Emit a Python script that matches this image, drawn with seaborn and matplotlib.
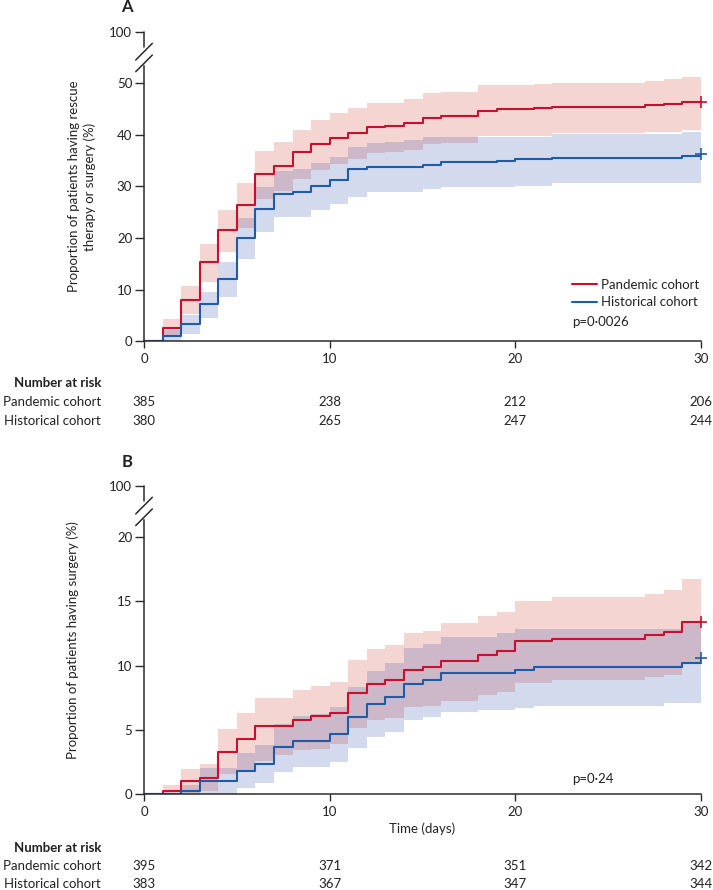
import numpy as np
import pandas as pd
import matplotlib
matplotlib.use("Agg")
import matplotlib.pyplot as plt
import matplotlib.transforms as mtransforms
import seaborn as sns

# ======== DATA ========
days = list(range(31))

# panel A: rescue therapy or surgery (%)
a_pand = [0, 2.6, 8.0, 15.3, 21.5, 26.4, 32.4, 34.0, 36.6, 38.2, 39.3, 40.4, 41.4, 41.7, 42.2,
          43.2, 43.6, 43.6, 44.6, 44.9, 44.9, 45.1, 45.4, 45.4, 45.4, 45.4, 45.4, 45.7, 46.0, 46.4, 46.4]
a_pand_hi = [0, 4.3, 10.7, 18.8, 25.5, 30.7, 36.8, 38.5, 41.0, 42.8, 44.2, 45.2, 46.2, 46.2, 47.0,
             48.0, 48.3, 48.3, 49.6, 49.6, 49.6, 49.8, 50.1, 50.1, 50.1, 50.1, 50.1, 50.4, 50.7, 51.2, 51.2]
a_pand_lo = [0, 1.2, 5.2, 11.5, 17.3, 22.0, 27.5, 29.1, 31.5, 33.1, 34.3, 35.3, 36.4, 36.7, 37.0,
             38.2, 38.4, 38.4, 39.8, 39.8, 39.8, 39.8, 40.3, 40.3, 40.3, 40.3, 40.3, 40.6, 40.6, 41.0, 41.0]
a_hist = [0, 1.0, 3.3, 7.2, 12.1, 20.0, 25.7, 28.6, 29.0, 30.1, 31.2, 33.3, 33.8, 33.8, 33.8,
          34.1, 34.8, 34.8, 34.8, 35.0, 35.2, 35.2, 35.5, 35.5, 35.5, 35.5, 35.5, 35.5, 35.5, 35.9, 36.3]
a_hist_hi = [0, 2.2, 5.0, 9.6, 15.3, 23.8, 29.9, 33.0, 33.4, 34.6, 35.6, 37.7, 38.4, 38.6, 39.0,
             39.5, 39.5, 39.5, 39.6, 39.6, 39.6, 39.6, 40.1, 40.1, 40.1, 40.1, 40.1, 40.1, 40.1, 40.6, 40.6]
a_hist_lo = [0, 0.1, 1.35, 4.45, 8.6, 15.9, 21.2, 24.0, 24.1, 25.5, 26.6, 28.0, 29.0, 29.0, 29.0,
             29.4, 29.8, 29.8, 29.8, 29.8, 30.1, 30.1, 30.6, 30.6, 30.6, 30.6, 30.6, 30.6, 30.6, 30.6, 30.6]

# panel B: surgery (%)
b_pand = [0, 0.26, 1.0, 1.3, 3.3, 4.3, 5.3, 5.3, 5.8, 6.05, 6.35, 7.85, 8.56, 8.85, 9.65,
          9.86, 10.37, 10.37, 10.85, 11.15, 11.9, 11.9, 12.1, 12.1, 12.1, 12.1, 12.1, 12.37, 12.6, 13.4, 13.4]
b_pand_hi = [0, 0.75, 2.0, 2.35, 5.05, 6.3, 7.5, 7.5, 8.1, 8.4, 8.7, 10.43, 11.28, 11.6, 12.5,
             12.7, 13.3, 13.3, 13.87, 14.18, 15.0, 15.0, 15.34, 15.34, 15.34, 15.34, 15.34, 15.55, 15.86, 16.7, 16.7]
b_pand_lo = [0, 0, 0.05, 0.25, 1.55, 1.9, 2.6, 3.05, 3.45, 3.55, 3.9, 5.12, 5.77, 5.9, 6.8,
             6.85, 7.27, 7.27, 7.71, 7.97, 8.62, 8.62, 8.87, 8.87, 8.87, 8.87, 8.87, 9.08, 9.26, 10.17, 10.17]
b_hist = [0, 0, 0.26, 1.03, 1.03, 1.81, 2.35, 3.68, 4.16, 4.16, 4.68, 5.98, 7.0, 7.53, 8.56,
          8.87, 9.39, 9.39, 9.39, 9.39, 9.65, 9.9, 9.9, 9.9, 9.9, 9.9, 9.9, 9.9, 9.9, 10.2, 10.6]
b_hist_hi = [0, 0, 0.75, 2.07, 2.07, 3.18, 3.83, 5.46, 6.1, 6.25, 6.8, 8.35, 9.6, 10.17, 11.4,
             11.7, 12.24, 12.24, 12.24, 12.5, 12.83, 12.83, 12.83, 12.83, 12.83, 12.83, 12.83, 12.83, 12.83, 13.3, 13.3]
b_hist_lo = [0, 0, 0, 0, 0, 0.46, 0.85, 1.75, 2.14, 2.14, 2.53, 3.57, 4.47, 4.86, 5.77,
             6.03, 6.41, 6.41, 6.55, 6.55, 6.68, 6.86, 6.86, 6.86, 6.86, 6.86, 6.86, 6.86, 7.07, 7.07, 7.07]

risk_days = [0, 10, 20, 30]
a_risk_pand = [385, 238, 212, 206]
a_risk_hist = [380, 265, 247, 244]
b_risk_pand = [395, 371, 351, 342]
b_risk_hist = [383, 367, 347, 344]

cohorts = ["Pandemic cohort", "Historical cohort"]

# ======== STYLE ========
sns.set_style("ticks")
plt.rcParams["font.family"] = ["Lato", "DejaVu Sans"]
plt.rcParams["font.size"] = 9

RED = "#c8102e"
BLUE = "#1f5ca8"
PINK = "#f4d5d2"
LIGHTBLUE = "#d3daee"
PURPLE = "#cdb8c9"
AXC = "#2b2b2b"
TXT = "#222222"
FS = 9.5

fig = plt.figure(figsize=(7.13, 8.90), dpi=100)
axA = fig.add_axes([0.2020, 0.6165, 0.7812, 0.3475])
axB = fig.add_axes([0.2020, 0.1075, 0.7812, 0.3464])


def draw_panel(ax, pand, pand_lo, pand_hi, hist, hist_lo, hist_hi, yticks, top, brk, legend):
    x = np.array(days)
    ax.fill_between(x, hist_lo, hist_hi, step="post", color=LIGHTBLUE, lw=0)
    ax.fill_between(x, pand_lo, pand_hi, step="post", color=PINK, lw=0)
    # overlap of the two confidence bands
    ov_lo = np.maximum(pand_lo, hist_lo)
    ov_hi = np.maximum(np.minimum(pand_hi, hist_hi), ov_lo)
    ax.fill_between(x, ov_lo, ov_hi, step="post", color=PURPLE, lw=0)

    df = pd.DataFrame({
        "day": days * 2,
        "pct": list(pand) + list(hist),
        "cohort": [cohorts[0]] * len(days) + [cohorts[1]] * len(days),
    })
    sns.lineplot(data=df, x="day", y="pct", hue="cohort", palette=[RED, BLUE],
                 drawstyle="steps-post", lw=1.5, ax=ax, legend=legend)
    ax.plot([days[-1]], [pand[-1]], marker="+", ms=8, mew=1.2, color=RED, clip_on=False)
    ax.plot([days[-1]], [hist[-1]], marker="+", ms=8, mew=1.2, color=BLUE, clip_on=False)

    ax.set_xlim(0, 30)
    ax.set_ylim(0, top)
    ax.set_xticks([0, 10, 20, 30])
    ax.set_yticks(list(yticks) + [top])
    ax.set_yticklabels([str(t) for t in yticks] + ["100"])
    ax.set_xlabel("")
    ax.set_ylabel("")
    ax.tick_params(axis="y", length=6.5, width=1, color=AXC, labelcolor=TXT, pad=2, labelsize=FS)
    ax.tick_params(axis="x", length=5, width=1, color=AXC, labelcolor=TXT, pad=3.5, labelsize=FS)
    for s in ["top", "right"]:
        ax.spines[s].set_visible(False)
    for s in ["bottom", "left"]:
        ax.spines[s].set_color(AXC)
        ax.spines[s].set_linewidth(1.1)
    ax.spines["left"].set_bounds(0, brk)

    # broken axis decoration
    tr = ax.transAxes
    ax.plot([0, 0], [0.9525, 1.0], color=AXC, lw=1.1, transform=tr, clip_on=False)
    ax.plot([-0.0149, 0.0149], [0.9095, 0.9635], color=AXC, lw=1.1, transform=tr, clip_on=False)
    ax.plot([-0.0149, 0.0149], [0.8717, 0.9256], color=AXC, lw=1.1, transform=tr, clip_on=False)


draw_panel(axA, a_pand, a_pand_lo, a_pand_hi, a_hist, a_hist_lo, a_hist_hi,
           [0, 10, 20, 30, 40, 50], 59.87, 53.2, True)
draw_panel(axB, b_pand, b_pand_lo, b_pand_hi, b_hist, b_hist_lo, b_hist_hi,
           [0, 5, 10, 15, 20], 23.94, 21.3, False)

# legend and p values
handles, labels = axA.get_legend_handles_labels()
axA.legend(handles, labels, loc="upper left", bbox_to_anchor=(0.768, 0.203),
           frameon=False, borderpad=0, borderaxespad=0, handlelength=1.9,
           handletextpad=0.35, labelspacing=0.45, fontsize=FS, labelcolor=TXT)
axA.text(23.07, 3.7, "p=0·0026", ha="left", va="center", fontsize=FS, color=TXT)
axB.text(23.07, 1.16, "p=0·24", ha="left", va="center", fontsize=FS, color=TXT)

# axis labels and panel letters
fig.text(0.115, 0.7903, "Proportion of patients having rescue\ntherapy or surgery (%)",
         rotation=90, ha="center", va="center", multialignment="center",
         linespacing=1.35, fontsize=FS, color=TXT)
fig.text(0.1024, 0.2809, "Proportion of patients having surgery (%)",
         rotation=90, ha="center", va="center", fontsize=FS, color=TXT)
fig.text(127 / 713, 1 - 7.5 / 890, "A", fontweight="bold", fontsize=12, ha="center", va="center", color=TXT)
fig.text(127 / 713, 1 - 461.7 / 890, "B", fontweight="bold", fontsize=12, ha="center", va="center", color=TXT)

trB = mtransforms.blended_transform_factory(axB.transData, fig.transFigure)
axB.text(15, 0.0685, "Time (days)", transform=trB, ha="center", va="center", fontsize=FS, color=TXT)


# ======== NUMBER AT RISK ========
def risk_table(ax, rows_y, pand_n, hist_n):
    tr = mtransforms.blended_transform_factory(ax.transData, fig.transFigure)
    fig.text(0.1417, rows_y[0], "Number at risk", ha="right", va="center",
             fontweight="bold", fontsize=FS, color=TXT)
    fig.text(0.1417, rows_y[1], cohorts[0], ha="right", va="center", fontsize=FS, color=TXT)
    fig.text(0.1417, rows_y[2], cohorts[1], ha="right", va="center", fontsize=FS, color=TXT)
    for d, n1, n2 in zip(risk_days, pand_n, hist_n):
        ax.text(d, rows_y[1], str(n1), transform=tr, ha="center", va="center", fontsize=FS, color=TXT)
        ax.text(d, rows_y[2], str(n2), transform=tr, ha="center", va="center", fontsize=FS, color=TXT)


risk_table(axA, [0.5700, 0.5483, 0.5273], a_risk_pand, a_risk_hist)
risk_table(axB, [0.0472, 0.0270, 0.0067], b_risk_pand, b_risk_hist)

fig.savefig("out.png", dpi=100)
